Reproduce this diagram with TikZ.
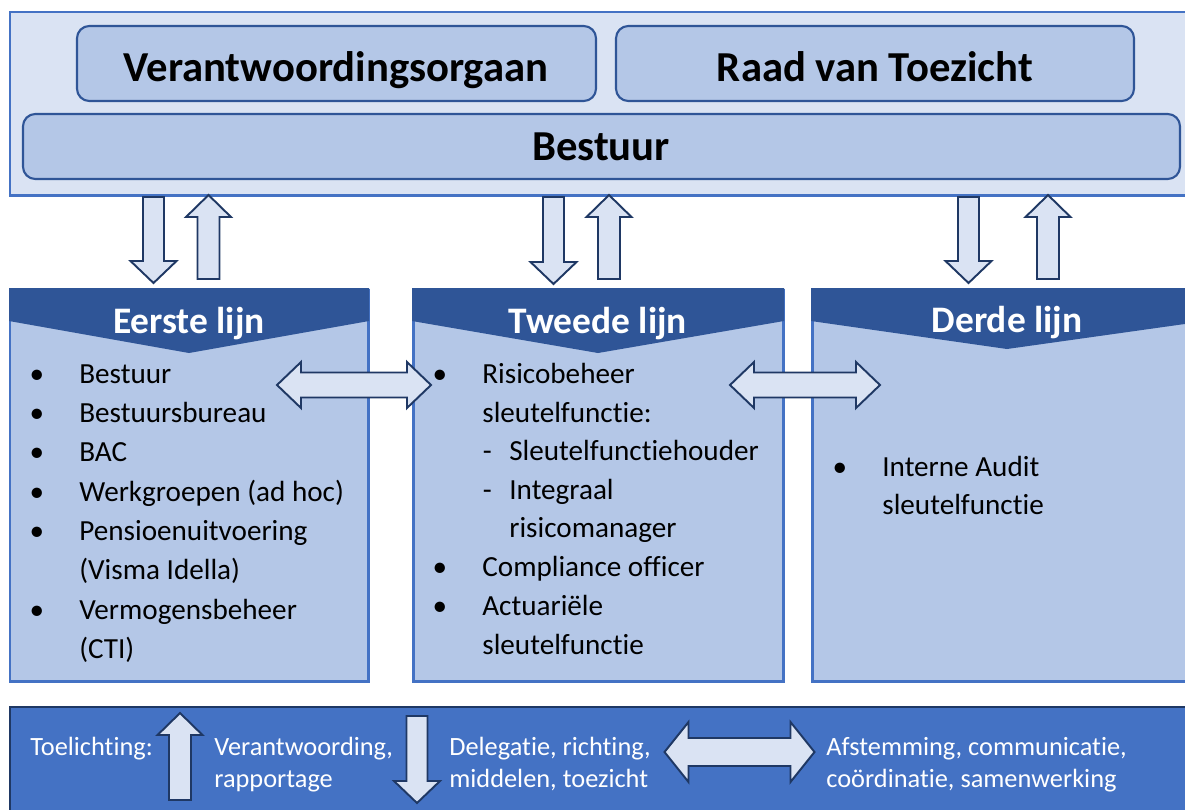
\documentclass[tikz,border=0pt]{standalone}
\usepackage{fontspec}
\setmainfont{Carlito}[Ligatures=NoCommon]
\definecolor{lightfill}{HTML}{DAE3F3}
\definecolor{midfill}{HTML}{B4C7E7}
\definecolor{lineblue}{HTML}{4472C4}
\definecolor{darkblue}{HTML}{2F5597}
\definecolor{navy}{HTML}{1F3864}
\newcommand{\bul}{\llap{\textbullet\hspace{20pt}}}
\newcommand{\dsh}{\llap{-\hspace{10pt}}}
\tikzset{
  outerbox/.style={fill=lightfill, draw=lineblue, line width=1.7pt},
  titlebox/.style={fill=midfill, draw=darkblue, line width=1.2pt, rounded corners=7pt},
  colbox/.style={fill=midfill, draw=lineblue, line width=1.7pt},
  headband/.style={fill=darkblue},
  legendbox/.style={fill=lineblue, draw=navy, line width=1.2pt},
  blockarrow/.style={fill=lightfill, draw=navy, line width=1.1pt, line join=miter},
  titletext/.style={font=\fontsize{24.3}{29}\selectfont\bfseries, inner sep=0, anchor=base},
  headtext/.style={font=\fontsize{21.3}{25}\selectfont\bfseries, text=white, inner sep=0, anchor=base},
  item/.style={font=\fontsize{16.6}{22}\selectfont, inner sep=0, anchor=base west},
  legendtext/.style={font=\fontsize{15}{18.1}\selectfont, text=white, inner sep=0, anchor=base west},
  pics/downarrow/.style={code={
    \draw[blockarrow] (-10.5,0) -- (10.5,0) -- (10.5,#1-22) -- (23,#1-22) -- (0,#1)
      -- (-23,#1-22) -- (-10.5,#1-22) -- cycle;}},
  pics/uparrow/.style={code={
    \draw[blockarrow] (0,0) -- (22.5,22) -- (11,22) -- (11,#1) -- (-11,#1)
      -- (-11,22) -- (-22.5,22) -- cycle;}},
  pics/hdouble/.style n args={3}{code={
    \draw[blockarrow] (-#1,0) -- (-#1+24,-#2) -- (-#1+24,-#3) -- (#1-24,-#3) -- (#1-24,-#2)
      -- (#1,0) -- (#1-24,#2) -- (#1-24,#3) -- (-#1+24,#3) -- (-#1+24,#2) -- cycle;}},
}
\begin{document}
\begin{tikzpicture}[x=0.02cm, y=-0.02cm]
  \useasboundingbox (0,0) rectangle (1185,809);
  \clip (0,0) rectangle (1185,809);
  % top block
  \draw[outerbox] (10,12) rectangle (1205,195);
  \draw[titlebox] (77,26) rectangle (596,101);
  \draw[titlebox] (616,26) rectangle (1134,101);
  \draw[titlebox] (23,114) rectangle (1180,179);
  \node[titletext] (vo) at (336,81) {Verantwoordingsorgaan};
  \node[titletext] (rvt) at (875,81) {Raad van Toezicht};
  \node[titletext] (bestuur) at (601,160) {Bestuur};

  % down and up arrows
  \pic at (153.5,197) {downarrow=86};
  \pic at (208.5,195) {uparrow=84};
  \pic at (553.5,197) {downarrow=87};
  \pic at (609,195) {uparrow=84};
  \pic at (968.5,197) {downarrow=86};
  \pic at (1048,195) {uparrow=84};

  % three lines
  \draw[colbox] (10,290) rectangle (368,681);
  \draw[colbox] (413,290) rectangle (783,681);
  \draw[colbox] (812,290) rectangle (1205,681);
  \fill[headband] (9,288) -- (369,288) -- (369,321) -- (189,353) -- (9,321) -- cycle;
  \fill[headband] (412,288) -- (784,288) -- (784,321) -- (598,353) -- (412,321) -- cycle;
  \fill[headband] (811,288) -- (1206,288) -- (1206,321) -- (1007,349) -- (811,321) -- cycle;
  \node[headtext] (eerste) at (189,333) {Eerste lijn};
  \node[headtext] (tweede) at (598,333) {Tweede lijn};
  \node[headtext] (derde) at (1007,332) {Derde lijn};

  \node[item] (e1) at (79,383) {\bul Bestuur};
  \node[item] (e2) at (79,422) {\bul Bestuursbureau};
  \node[item] (e3) at (79,461.5) {\bul BAC};
  \node[item] (e4) at (79,501) {\bul Werkgroepen (ad hoc)};
  \node[item] (e5) at (79,540) {\bul Pensioenuitvoering};
  \node[item] (e6) at (79,579.5) {(Visma Idella)};
  \node[item] (e7) at (79,619) {\bul Vermogensbeheer};
  \node[item] (e8) at (79,658) {(CTI)};

  \node[item] (t1) at (482,383) {\bul Risicobeheer};
  \node[item] (t2) at (482,422) {sleutelfunctie:};
  \node[item] (t3) at (509,460) {\dsh Sleutelfunctiehouder};
  \node[item] (t4) at (509,499) {\dsh Integraal};
  \node[item] (t5) at (509,537) {risicomanager};
  \node[item] (t6) at (482,576) {\bul Compliance officer};
  \node[item] (t7) at (482,615) {\bul Actuariële};
  \node[item] (t8) at (482,654) {sleutelfunctie};

  \node[item] (d1) at (882,476) {\bul Interne Audit};
  \node[item] (d2) at (882,514) {sleutelfunctie};

  \pic at (354,385) {hdouble={77}{23}{12.5}};
  \pic at (805,385) {hdouble={75}{23}{12.5}};

  % legend
  \draw[legendbox] (10,707) rectangle (1205,830);
  \node[legendtext] (toel) at (30,755) {Toelichting:};
  \pic at (180,713) {uparrow=87};
  \node[legendtext] (verantw) at (214,755) {Verantwoording,};
  \node[legendtext] (rapp) at (214,787) {rapportage};
  \pic at (417,716) {downarrow=87};
  \node[legendtext] (deleg) at (449,755) {Delegatie, richting,};
  \node[legendtext] (midd) at (449,787) {middelen, toezicht};
  \pic at (739.5,752) {hdouble={75}{30}{14}};
  \node[legendtext] (afst) at (826,755) {Afstemming, communicatie,};
  \node[legendtext] (coord) at (826,787) {coördinatie, samenwerking};
\end{tikzpicture}
\end{document}
